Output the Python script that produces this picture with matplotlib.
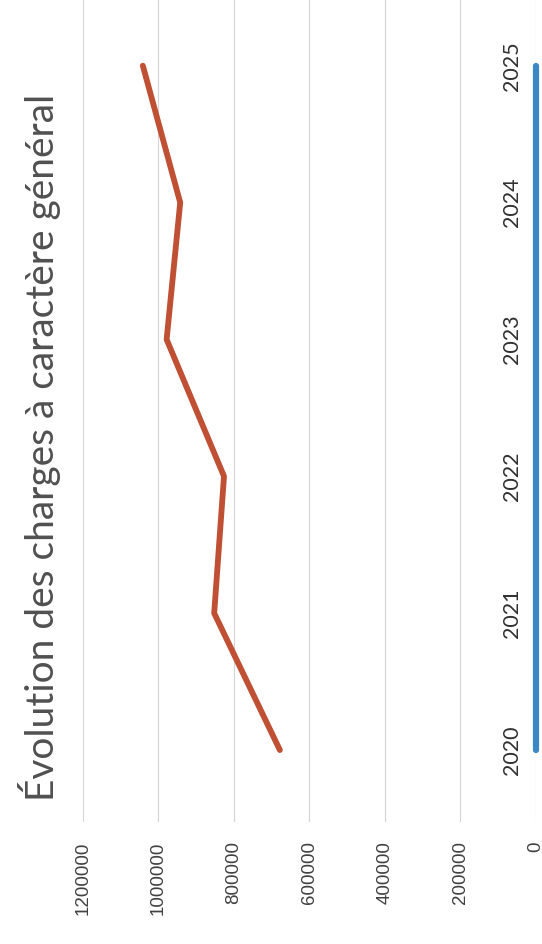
import matplotlib.pyplot as plt
from matplotlib.transforms import offset_copy

years = ['2020', '2021', '2022', '2023', '2024', '2025']
charges = [678000, 852000, 826000, 978000, 942000, 1041000]
zero_series = [0, 0, 0, 0, 0, 0]
value_ticks = [0, 200000, 400000, 600000, 800000, 1000000, 1200000]

red = '#bf5033'
blue = '#3a88c6'

fig = plt.figure(figsize=(5.42, 9.44), dpi=100)
# the whole chart is turned 90 degrees: values run right-to-left, years bottom-to-top
ax = fig.add_axes([0.1528, 0.1292, 0.8358, 0.8708])

pos = list(range(len(years)))
ax.plot(charges, pos, color=red, linewidth=4.2, solid_capstyle='round', zorder=3)
ax.plot(zero_series, pos, color=blue, linewidth=4.5, solid_capstyle='round',
        clip_on=False, zorder=3)

ax.set_xlim(1200000, 0)
ax.set_ylim(-0.526, 5.48)

ax.set_xticks(value_ticks)
ax.set_xticklabels([str(v) for v in value_ticks], rotation=90, va='top',
                   fontsize=13.5, family='Liberation Sans', color='#404040')
ax.tick_params(axis='x', length=0, pad=14)
ax.set_yticks([])
ax.grid(axis='x', color='#d4d4d4', linewidth=0.8)
ax.set_axisbelow(True)
for s in ax.spines.values():
    s.set_visible(False)

# year labels sit just inside the zero line
lab_tr = offset_copy(ax.transData, fig=fig, x=-24, y=0, units='dots')
for i, y in enumerate(years):
    ax.text(0, i, y, transform=lab_tr, rotation=90, ha='center', va='center',
            fontsize=15.5, family='Lato', color='#303030', clip_on=False)

fig.text(40 / 542, 1 - 447 / 944, 'Évolution des charges à caractère général',
         rotation=90, ha='center', va='center', fontsize=28, family='Lato',
         color='#505050')

fig.savefig('out.png', dpi=100)
plt.close(fig)
